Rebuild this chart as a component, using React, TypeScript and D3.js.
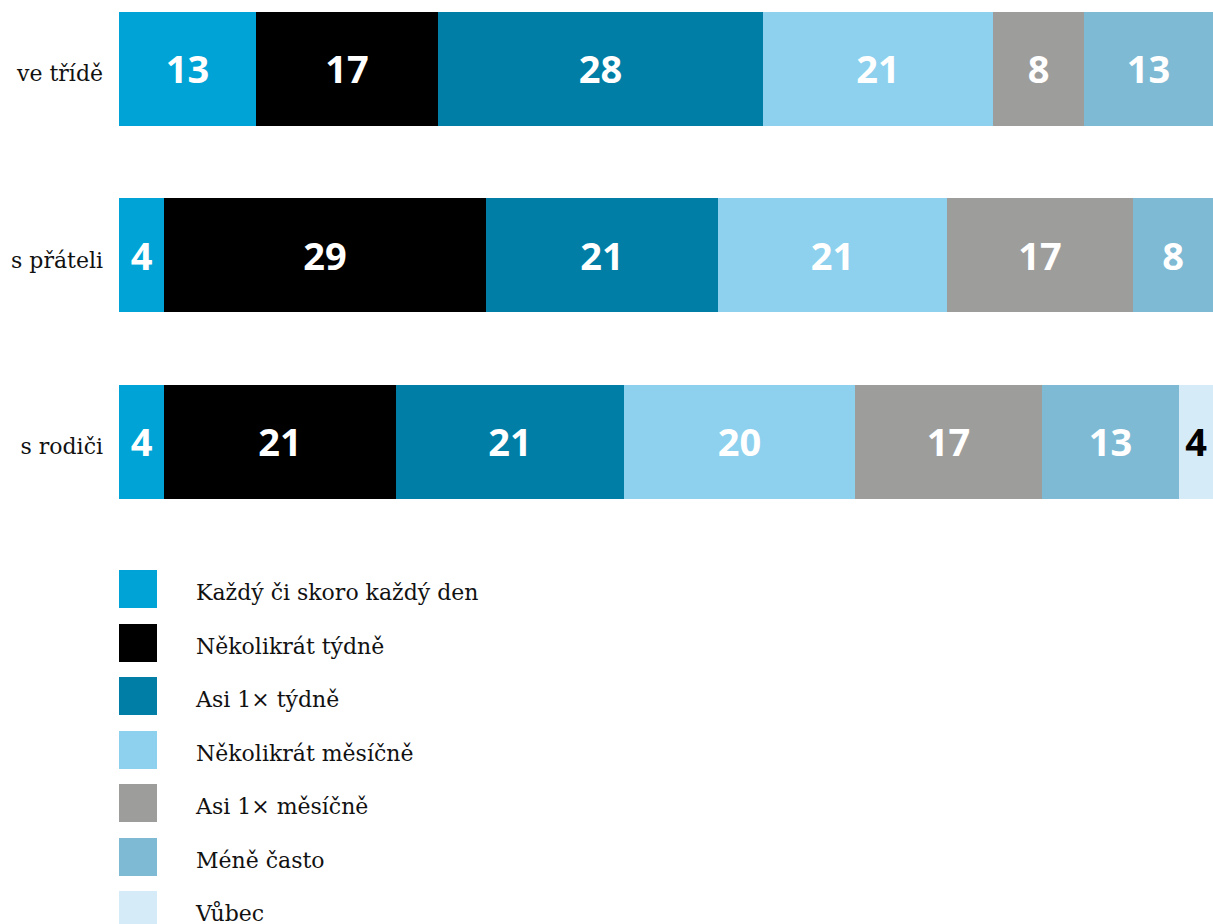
import React from "react";
import * as d3 from "d3";

const categories = ["ve třídě", "s přáteli", "s rodiči"];
const seriesNames = [
  "Každý či skoro každý den",
  "Několikrát týdně",
  "Asi 1× týdně",
  "Několikrát měsíčně",
  "Asi 1× měsíčně",
  "Méně často",
  "Vůbec",
];
const seriesColors = ["#00a3d5", "#000000", "#007ea6", "#8dd1ee", "#9d9d9c", "#7ebad4", "#d6ebf8"];
const labelColors = ["#ffffff", "#ffffff", "#ffffff", "#ffffff", "#ffffff", "#ffffff", "#000000"];

// segment sizes as drawn (percent)
const valuesVeTride = [12.5, 16.65, 29.7, 21.0, 8.4, 11.75, 0];
const valuesSPrateli = [4.1, 29.45, 21.2, 20.95, 17.0, 7.3, 0];
const valuesSRodici = [4.1, 21.2, 20.85, 21.1, 17.1, 12.5, 3.15];
// printed labels
const labelsVeTride = ["13", "17", "28", "21", "8", "13", ""];
const labelsSPrateli = ["4", "29", "21", "21", "17", "8", ""];
const labelsSRodici = ["4", "21", "21", "20", "17", "13", "4"];

const rowValues = [valuesVeTride, valuesSPrateli, valuesSRodici];
const rowLabels = [labelsVeTride, labelsSPrateli, labelsSRodici];

export default function App() {
  const W = 1213;
  const H = 924;
  const x = d3.scaleLinear().domain([0, 100]).range([119, 1213]);
  const y = d3.scaleBand<string>().domain(categories).range([12, 499]).paddingInner(0.3887).paddingOuter(0);
  const bw = y.bandwidth();
  const legendY = d3.scaleBand<string>().domain(seriesNames).range([570, 570 + 53.5 * 7]);

  return (
    <svg width={W} height={H} style={{ position: "absolute", left: 0, top: 0, background: "#fff" }}>
      {categories.map((cat, ri) => {
        const vals = rowValues[ri];
        const labs = rowLabels[ri];
        const stackStarts = d3.cumsum([0, ...vals]);
        const y0 = y(cat) as number;
        const cy = y0 + bw / 2;
        return (
          <g key={cat}>
            <text
              x={103}
              y={cy + 12}
              textAnchor="end"
              fontFamily="'DejaVu Serif', serif"
              fontSize={22}
              fill="#111"
            >
              {cat}
            </text>
            {vals.map((v, si) => {
              if (v <= 0) return null;
              const xa = Math.round(x(stackStarts[si]));
              const xb = Math.round(x(stackStarts[si] + v));
              return (
                <g key={si}>
                  <rect x={xa} y={Math.round(y0)} width={xb - xa} height={Math.round(bw)} fill={seriesColors[si]} />
                  <text
                    x={(xa + xb) / 2}
                    y={cy + 14}
                    textAnchor="middle"
                    fontFamily="'Open Sans', sans-serif"
                    fontWeight={700}
                    fontSize={38}
                    fill={labelColors[si]}
                  >
                    {labs[si]}
                  </text>
                </g>
              );
            })}
          </g>
        );
      })}
      {seriesNames.map((name, i) => {
        const ly = legendY(name) as number;
        return (
          <g key={name}>
            <rect x={119} y={Math.round(ly)} width={38} height={38} fill={seriesColors[i]} />
            <text
              x={196}
              y={ly + 30}
              fontFamily="'DejaVu Serif', serif"
              fontSize={22}
              fill="#111"
            >
              {name}
            </text>
          </g>
        );
      })}
    </svg>
  );
}
